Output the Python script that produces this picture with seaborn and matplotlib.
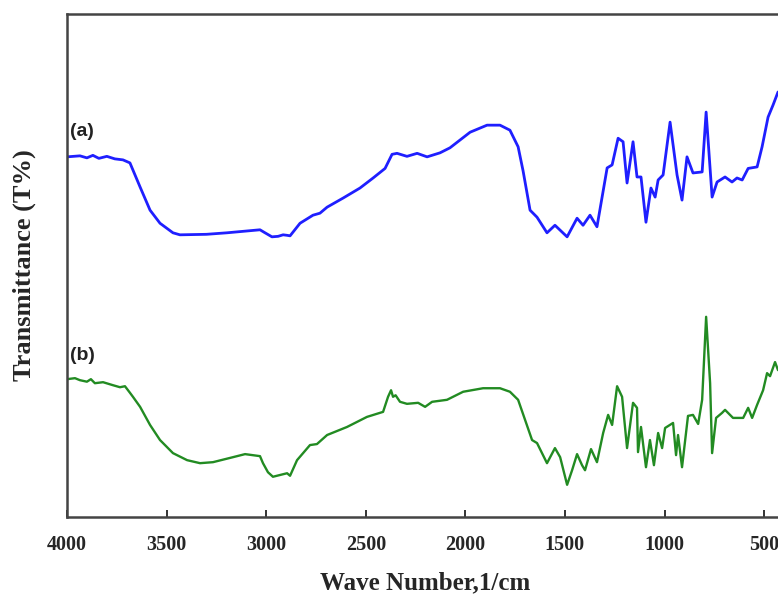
import matplotlib
matplotlib.use("Agg")
import matplotlib.pyplot as plt
import seaborn as sns
import pandas as pd

# FTIR spectrum (a)
wn_a = [4000, 3935, 3900, 3870, 3840, 3800, 3760, 3719, 3684, 3633, 3583, 3533,
        3468, 3433, 3300, 3197, 3031, 3010, 2971, 2940, 2915, 2895, 2880, 2830,
        2765, 2730, 2694, 2614, 2529, 2463, 2403, 2368, 2343, 2293, 2242, 2192,
        2127, 2077, 1976, 1891, 1826, 1776, 1735, 1710, 1675, 1640, 1590, 1550,
        1489, 1439, 1409, 1374, 1339, 1288, 1263, 1233, 1208, 1188, 1158, 1138,
        1118, 1093, 1068, 1047, 1032, 1007, 972, 937, 912, 887, 857, 811, 791,
        761, 736, 696, 661, 636, 610, 580, 535, 510, 480, 455, 430]
t_a = [71.6, 71.8, 71.4, 71.9, 71.3, 71.7, 71.2, 71.0, 70.4, 65.6, 61.0, 58.4,
       56.5, 56.1, 56.2, 56.5, 57.1, 56.6, 55.7, 55.8, 56.1, 56.0, 55.9, 58.4,
       60.0, 60.4, 61.6, 63.4, 65.4, 67.4, 69.3, 72.1, 72.3, 71.7, 72.3, 71.6,
       72.4, 73.4, 76.5, 77.9, 77.9, 76.9, 73.6, 68.8, 61.0, 59.6, 56.5, 58.0,
       55.7, 59.4, 58.0, 60.0, 57.7, 69.4, 70.0, 75.3, 74.6, 66.4, 74.6, 67.6,
       67.6, 58.6, 65.4, 63.6, 67.0, 68.0, 78.5, 68.0, 63.0, 71.6, 68.4, 68.6, 80.5,
       63.6, 66.6, 67.6, 66.6, 67.4, 67.0, 69.3, 69.6, 73.6, 79.5, 81.9, 84.5]

# FTIR spectrum (b)
wn_b = [4000, 3960, 3935, 3900, 3880, 3860, 3819, 3769, 3734, 3709, 3684, 3669,
        3633, 3583, 3533, 3468, 3397, 3332, 3267, 3166, 3106, 3031, 3016, 2991,
        2966, 2895, 2880, 2845, 2780, 2745, 2694, 2594, 2494, 2413, 2388, 2373,
        2363, 2350, 2328, 2293, 2237, 2202, 2167, 2092, 2011, 1911, 1826, 1776,
        1735, 1700, 1665, 1640, 1590, 1550, 1524, 1489, 1464, 1439, 1414, 1399,
        1369, 1339, 1308, 1283, 1263, 1238, 1213, 1188, 1158, 1138, 1133, 1118,
        1093, 1073, 1053, 1032, 1012, 997, 957, 942, 932, 912, 882, 857, 831, 811,
        791, 771, 761, 741, 711, 696, 656, 605, 580, 560, 535, 505, 485, 470, 445, 430]
t_b = [27.4, 27.6, 27.2, 26.9, 27.4, 26.6, 26.8, 26.2, 25.8, 26.0, 24.7, 23.9,
       21.9, 18.3, 15.3, 12.7, 11.3, 10.7, 10.9, 11.9, 12.5, 12.1, 10.7, 8.9,
       8.0, 8.7, 8.2, 11.3, 14.3, 14.5, 16.3, 17.9, 19.9, 20.9, 23.9, 25.2,
       23.9, 24.2, 22.9, 22.5, 22.7, 21.9, 22.9, 23.3, 24.9, 25.6, 25.6, 24.9,
       23.3, 19.3, 15.3, 14.7, 10.7, 13.7, 11.9, 6.4, 9.3, 12.5, 10.3, 9.3,
       13.5, 10.9, 16.7, 20.3, 18.3, 26.0, 23.9, 13.7, 22.7, 21.7, 12.9, 17.9,
       9.9, 15.3, 10.3, 16.7, 13.7, 17.7, 18.7, 12.3, 16.3, 9.9, 20.1, 20.3, 18.5, 23.3,
       39.8, 26.6, 12.7, 19.7, 20.7, 21.3, 19.7, 19.7, 21.7, 19.7, 22.3, 25.2, 28.6, 28.0, 30.8, 29.2]

x_ticks = [4000, 3500, 3000, 2500, 2000, 1500, 1000, 500]

df_a = pd.DataFrame({"wn": wn_a, "t": t_a})
df_b = pd.DataFrame({"wn": wn_b, "t": t_b})

sns.set_theme(style="white")
plt.rcParams["font.family"] = ["Liberation Serif", "DejaVu Serif"]

fig = plt.figure(figsize=(7.78, 5.98), dpi=100)
ax = fig.add_axes([67 / 778, 81 / 598, 717 / 778, 503 / 598])

sns.lineplot(data=df_a, x="wn", y="t", ax=ax, color="#1f1fff", linewidth=2.0,
             estimator=None, sort=False)
sns.lineplot(data=df_b, x="wn", y="t", ax=ax, color="#228B22", linewidth=1.7,
             estimator=None, sort=False)

ax.set_xlim(4000, 400)
ax.set_ylim(0, 100)
ax.set_xticks(x_ticks)
ax.set_xticklabels([str(v) for v in x_ticks], fontsize=14.5, fontweight="bold")
ax.set_yticks([])
ax.tick_params(axis="x", direction="in", length=5, width=1.4, color="#333333",
               pad=13, bottom=True)

for side in ("left", "top", "bottom", "right"):
    ax.spines[side].set_color("#444444")
    ax.spines[side].set_linewidth(1.8)

ax.set_xlabel("Wave Number,1/cm", fontsize=18, fontweight="bold", labelpad=12)
ax.set_ylabel("Transmittance (T%)", fontsize=19, fontweight="bold", labelpad=22)

ax.text(3985, 76.7, "(a)", fontsize=14, fontweight="bold", color="#222222",
        family=["Liberation Sans", "DejaVu Sans"], va="center", ha="left")
ax.text(3985, 32.2, "(b)", fontsize=14, fontweight="bold", color="#222222",
        family=["Liberation Sans", "DejaVu Sans"], va="center", ha="left")

fig.savefig("out.png", dpi=100)
